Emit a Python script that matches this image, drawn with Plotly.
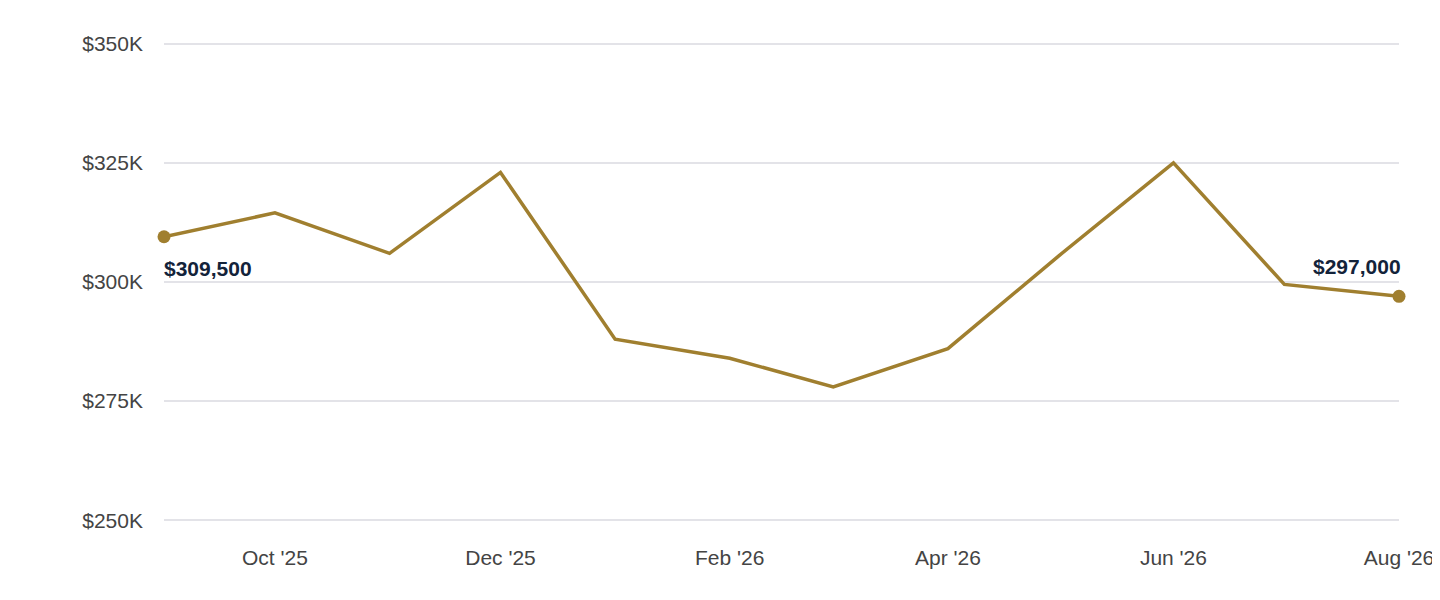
import plotly.graph_objects as go

months = ["2025-09-01","2025-10-01","2025-11-01","2025-12-01","2026-01-01","2026-02-01",
          "2026-03-01","2026-04-01","2026-05-01","2026-06-01","2026-07-01","2026-08-01"]
values = [309500, 314500, 306000, 323000, 288000, 284000, 278000, 286000, 305500, 325000, 299500, 297000]
tick_vals = ["2025-10-01","2025-12-01","2026-02-01","2026-04-01","2026-06-01","2026-08-01"]
tick_text = ["Oct '25","Dec '25","Feb '26","Apr '26","Jun '26","Aug '26"]
y_ticks = [250000, 275000, 300000, 325000, 350000]
y_text = ["$250K","$275K","$300K","$325K","$350K"]

color = "#a07f2f"
fig = go.Figure()
fig.add_trace(go.Scatter(x=months, y=values, mode="lines", line=dict(color=color, width=3.5),
                         hoverinfo="skip", showlegend=False))
fig.add_trace(go.Scatter(x=[months[0], months[-1]], y=[values[0], values[-1]], mode="markers",
                         marker=dict(color=color, size=13), showlegend=False, cliponaxis=False))
fig.add_annotation(x=months[0], y=values[0], text="<b>$%s</b>" % f"{values[0]:,}", showarrow=False,
                   xanchor="left", yanchor="top", yshift=-18, xshift=-2,
                   font=dict(family="Arial, Liberation Sans", size=21, color="#13233a"))
fig.add_annotation(x=months[-1], y=values[-1], text="<b>$%s</b>" % f"{values[-1]:,}", showarrow=False,
                   xanchor="right", yanchor="bottom", yshift=16, xshift=4,
                   font=dict(family="Arial, Liberation Sans", size=21, color="#13233a"))
fig.update_layout(
    width=1440, height=600, plot_bgcolor="white", paper_bgcolor="white",
    margin=dict(l=156, r=49, t=31, b=83),
    font=dict(family="Arial, Liberation Sans", size=21, color="#555"),
    xaxis=dict(range=[months[0], months[-1]], tickvals=tick_vals, ticktext=tick_text,
               showgrid=False, zeroline=False, showline=False, ticks="", ticklen=0,
               automargin=False, ticklabelstandoff=18,
               tickfont=dict(size=21, color="#444")),
    yaxis=dict(range=[249000, 351000], tickvals=y_ticks, ticktext=y_text, showgrid=True,
               gridcolor="#e3e3e8", gridwidth=1.5, zeroline=False, showline=False, ticks="",
               automargin=False, ticklabelstandoff=20, tickfont=dict(size=21, color="#444")),
)
fig.write_html("out.html")
